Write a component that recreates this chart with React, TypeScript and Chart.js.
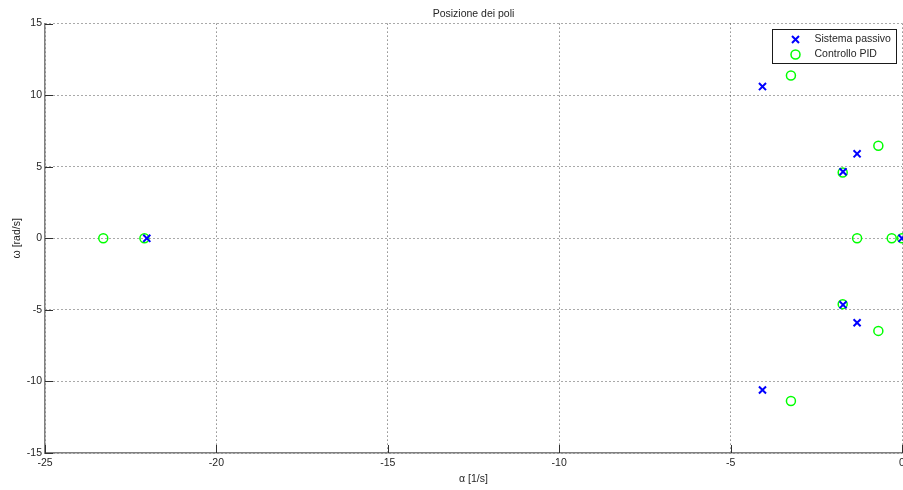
import React, { useEffect, useRef } from "react";
import { Chart, registerables } from "chart.js";

Chart.register(...registerables);

const titleText = "Posizione dei poli";
const xLabel = "α [1/s]";
const yLabel = "ω [rad/s]";

const passivoLabel = "Sistema passivo";
const passivoRe = [-22.03, -4.07, -4.07, -1.31, -1.31, -1.72, -1.72, 0];
const passivoIm = [0, 10.6, -10.6, 5.9, -5.9, 4.65, -4.65, 0];

const pidLabel = "Controllo PID";
const pidRe = [-23.3, -22.1, -3.24, -3.24, -0.69, -0.69, -1.73, -1.73, -1.31, -0.3, 0];
const pidIm = [0, 0, 11.37, -11.37, 6.47, -6.47, 4.6, -4.6, 0, 0, 0];

const xTicks = [-25, -20, -15, -10, -5, 0];
const yTicks = [-15, -10, -5, 0, 5, 10, 15];

const FONT = "'Liberation Sans', Arial, Helvetica, sans-serif";
const TXT = "#262626";
const GRID = "rgba(40,40,40,0.8)";

const inwardTicks = {
  id: "inwardTicks",
  afterDraw(chart: any) {
    const { ctx, chartArea } = chart;
    const xs = chart.scales.x;
    const ys = chart.scales.y;
    ctx.save();
    ctx.strokeStyle = "#303030";
    ctx.lineWidth = 1;
    ctx.beginPath();
    xTicks.forEach((v) => {
      const px = Math.round(xs.getPixelForValue(v)) + 0.5;
      ctx.moveTo(px, chartArea.bottom);
      ctx.lineTo(px, chartArea.bottom - 8);
    });
    yTicks.forEach((v) => {
      const py = Math.round(ys.getPixelForValue(v)) + 0.5;
      ctx.moveTo(chartArea.left, py);
      ctx.lineTo(chartArea.left + 8, py);
    });
    ctx.stroke();
    ctx.restore();
  },
};

const boxLegend = {
  id: "boxLegend",
  afterDraw(chart: any) {
    const { ctx, chartArea } = chart;
    const w = 124;
    const h = 34;
    const left = Math.round(chartArea.right - 6 - w) + 0.5;
    const top = Math.round(chartArea.top + 5) + 0.5;
    ctx.save();
    ctx.fillStyle = "#ffffff";
    ctx.fillRect(left, top, w, h);
    ctx.strokeStyle = "#1a1a1a";
    ctx.lineWidth = 1;
    ctx.strokeRect(left, top, w, h);
    const mx = left + 23;
    const y1 = top + 10;
    const y2 = top + 25;
    ctx.strokeStyle = "#0000ff";
    ctx.lineWidth = 2;
    ctx.beginPath();
    const d = 3.5;
    ctx.moveTo(mx - d, y1 - d);
    ctx.lineTo(mx + d, y1 + d);
    ctx.moveTo(mx + d, y1 - d);
    ctx.lineTo(mx - d, y1 + d);
    ctx.stroke();
    ctx.strokeStyle = "#00ff00";
    ctx.lineWidth = 1.5;
    ctx.beginPath();
    ctx.arc(mx, y2, 4.5, 0, Math.PI * 2);
    ctx.stroke();
    ctx.fillStyle = TXT;
    ctx.font = `10.5px ${FONT}`;
    ctx.textBaseline = "middle";
    ctx.textAlign = "left";
    const ds = chart.data.datasets;
    ctx.fillText(ds[0].label, left + 42, y1);
    ctx.fillText(ds[1].label, left + 42, y2);
    ctx.restore();
  },
};

export default function App() {
  const ref = useRef<HTMLCanvasElement | null>(null);

  useEffect(() => {
    if (!ref.current) return;
    const chart = new Chart(ref.current, {
      type: "scatter",
      data: {
        datasets: [
          {
            label: passivoLabel,
            data: passivoRe.map((x, i) => ({ x, y: passivoIm[i] })),
            pointStyle: "crossRot",
            pointRadius: 5,
            pointHoverRadius: 5,
            borderColor: "#0000ff",
            backgroundColor: "#0000ff",
            pointBorderWidth: 2,
            clip: false,
          },
          {
            label: pidLabel,
            data: pidRe.map((x, i) => ({ x, y: pidIm[i] })),
            pointStyle: "circle",
            pointRadius: 4.5,
            pointHoverRadius: 4.5,
            borderColor: "#00ff00",
            backgroundColor: "rgba(0,0,0,0)",
            pointBorderWidth: 1.5,
            clip: false,
          },
        ],
      },
      options: {
        animation: false,
        responsive: false,
        events: [],
        layout: { padding: { left: 0, right: 0, top: 0, bottom: 0 } },
        plugins: {
          legend: { display: false },
          tooltip: { enabled: false },
          title: {
            display: true,
            text: titleText,
            fullSize: false,
            color: TXT,
            font: { family: FONT, size: 10.5, weight: "normal" },
            padding: { top: 8, bottom: 3 },
          },
        },
        scales: {
          x: {
            type: "linear",
            min: -25,
            max: 0,
            afterBuildTicks: (s: any) => {
              s.ticks = xTicks.map((v) => ({ value: v }));
            },
            afterFit: (s: any) => {
              s.height = 37;
              s.paddingLeft = 0;
              s.paddingRight = 0;
            },
            ticks: {
              color: TXT,
              font: { family: FONT, size: 10.5 },
              padding: 4,
              maxRotation: 0,
              autoSkip: false,
            },
            grid: {
              color: GRID,
              lineWidth: 1,
              drawTicks: false,
            },
            border: { display: true, color: "#808080", width: 1.5, dash: [1, 3] },
            title: {
              display: true,
              text: xLabel,
              color: TXT,
              font: { family: FONT, size: 10.5 },
              padding: { top: 0, bottom: 5 },
            },
          },
          y: {
            type: "linear",
            min: -15,
            max: 15,
            afterBuildTicks: (s: any) => {
              s.ticks = yTicks.map((v) => ({ value: v }));
            },
            afterFit: (s: any) => {
              s.width = 45;
              s.paddingTop = 0;
              s.paddingBottom = 0;
            },
            ticks: {
              color: TXT,
              font: { family: FONT, size: 10.5 },
              padding: 3,
              autoSkip: false,
            },
            grid: {
              color: GRID,
              lineWidth: 1,
              drawTicks: false,
            },
            border: { display: true, color: "#808080", width: 1.5, dash: [1, 3] },
            title: {
              display: true,
              text: yLabel,
              color: TXT,
              font: { family: FONT, size: 10.5 },
              padding: { top: 11, bottom: 0 },
            },
          },
        },
      },
      plugins: [inwardTicks, boxLegend],
    } as any);
    return () => chart.destroy();
  }, []);

  return (
    <div
      style={{
        position: "fixed",
        left: 0,
        top: 0,
        width: 903,
        height: 490,
        overflow: "hidden",
        background: "#fff",
      }}
    >
      <canvas ref={ref} width={909} height={490} style={{ display: "block" }} />
    </div>
  );
}
